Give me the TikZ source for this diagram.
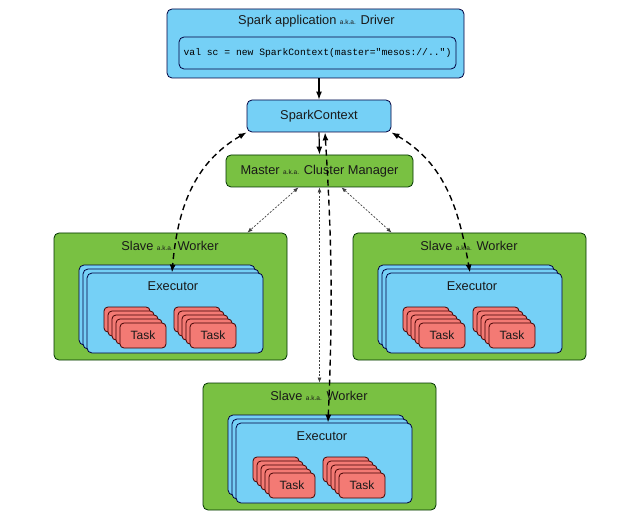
\documentclass[tikz,border=0pt]{standalone}
\usepackage{fontspec}
\setmainfont{Liberation Sans}
\setmonofont{Liberation Mono}
\usetikzlibrary{arrows.meta}

\definecolor{workergreen}{RGB}{121,193,66}
\definecolor{sparkblue}{RGB}{117,208,246}
\definecolor{taskred}{RGB}{243,122,116}
\newcommand{\aka}{{\fontsize{6.5}{7}\selectfont a.k.a.}}

\begin{document}
\begin{tikzpicture}[x=1pt, y=-1pt,
    box/.style={rounded corners=5pt, line width=0.8pt, inner sep=0pt},
    bluebox/.style={box, fill=sparkblue, draw=blue!25!black},
    greenbox/.style={box, fill=workergreen, draw=green!20!black},
    execbox/.style={bluebox, minimum width=176pt, minimum height=80pt},
    taskbox/.style={box, fill=taskred, draw=red!25!black, rounded corners=4pt,
        minimum width=46pt, minimum height=25pt},
    label/.style={text=black!90, font=\fontsize{12.8}{15}\selectfont},
    solidarrow/.style={line width=1.2pt, -{Latex[length=8pt,width=6pt]}},
    dasharrow/.style={line width=1.4pt, dash pattern=on 6pt off 4pt,
        {Latex[length=8pt,width=6pt]}-{Latex[length=8pt,width=6pt]}},
    dotarrow/.style={line width=0.7pt, gray!50!black, dash pattern=on 2pt off 1.5pt,
        {Latex[length=5pt,width=4pt]}-{Latex[length=5pt,width=4pt]}}]
    \useasboundingbox (0, 0) rectangle (631, 521);

    % Driver
    \node [bluebox, minimum width=297pt, minimum height=69pt] (driver) at (315.5, 43.5) {};
    \node [label] (driver-title) at (316.5, 21) {Spark application \aka{} Driver};
    \node [bluebox, minimum width=277pt, minimum height=32pt,
        font=\ttfamily\fontsize{9.7}{11}\selectfont] (code) at (317.5, 53)
        {val sc = new SparkContext(master="mesos://..")};

    % SparkContext and Master
    \node [bluebox, label, minimum width=144pt, minimum height=32pt] (sc) at (319, 116) {SparkContext};
    \node [greenbox, label, minimum width=187pt, minimum height=32pt] (master) at (319.5, 171)
        {Master \aka{} Cluster Manager};

    % Workers (left, right, bottom)
    \foreach \n/\ox/\oy in {1/54/233, 2/353/233, 3/203/383} {
        \begin{scope}[shift={(\ox, \oy)}]
            \node [greenbox, minimum width=233pt, minimum height=127pt] (w\n) at (116.5, 63.5) {};
            \node [label] (w\n-title) at (116, 13) {Slave \aka{} Worker};
            \foreach \d in {8, 4}
                \node [execbox] (w\n-exec\d) at (121-\d, 80-\d) {};
            \node [execbox] (w\n-exec) at (121, 80) {};
            \node [label] (w\n-exec-title) at (119, 53) {Executor};
            \foreach \d in {16, 12, 8, 4} {
                \node [taskbox] (w\n-taska\d) at (89-\d, 102.5-\d) {};
                \node [taskbox] (w\n-taskb\d) at (159-\d, 102.5-\d) {};
            }
            \node [taskbox, label, font=\fontsize{12}{14}\selectfont] (w\n-taska) at (89, 102.5) {Task};
            \node [taskbox, label, font=\fontsize{12}{14}\selectfont] (w\n-taskb) at (159, 102.5) {Task};
        \end{scope}
    }

    % Connectors
    \draw [solidarrow] (sc.north |- driver.south) -- (sc.north);
    \draw [solidarrow] (sc.south) -- (master.north);

    \draw [dotarrow] ([xshift=-21pt]master.south) -- ([xshift=-40pt]w1.north east);
    \draw [dotarrow] ([xshift=22pt]master.south) -- ([xshift=39pt]w2.north west);
    \draw [dotarrow] (master.south) -- (w3.north);

    \draw [dasharrow] (sc.south west) to[out=210, in=85] ([xshift=-3pt]w1-exec.north);
    \draw [dasharrow] (sc.south east) to[out=-30, in=100] ([xshift=-4pt]w2-exec.north);
    \draw [dasharrow] ([xshift=6pt]sc.south) to[bend left=3] ([xshift=4pt]w3-exec.north);
\end{tikzpicture}
\end{document}
